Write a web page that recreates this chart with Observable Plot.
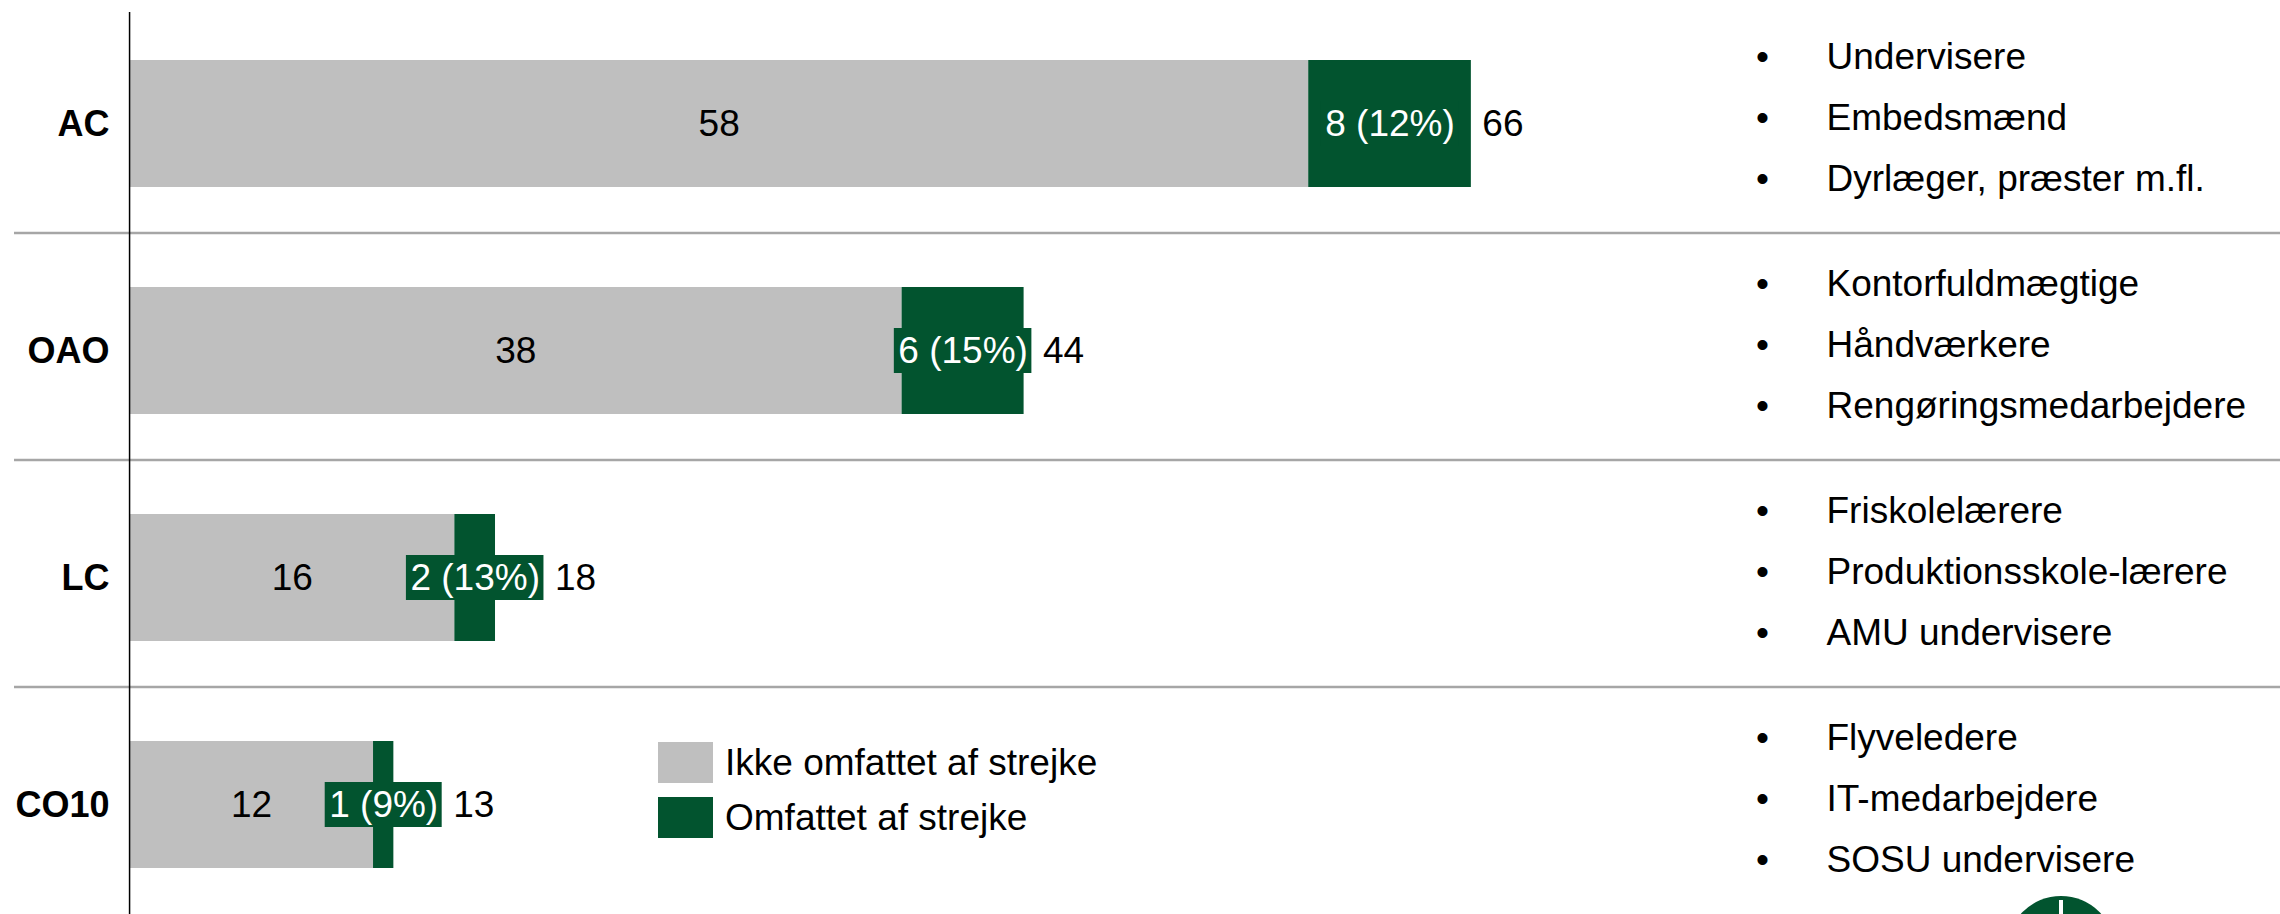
<!DOCTYPE html>
<html>
<head>
<meta charset="utf-8">
<script src="https://cdn.jsdelivr.net/npm/d3@7"></script>
<script src="https://cdn.jsdelivr.net/npm/@observablehq/plot@0.6"></script>
<style>
  html, body { margin: 0; padding: 0; background: #fff; }
  body { width: 2280px; height: 914px; overflow: hidden; position: relative;
         font-family: "Liberation Sans", Arial, sans-serif; }
  #chart { position: absolute; left: 0; top: 0; }
  .legend { position: absolute; left: 658px; top: 742px; font-size: 37px; color: #000; }
  .legend .row { display: flex; align-items: center; height: 41px; margin-bottom: 14px; }
  .legend .sw { width: 55px; height: 41px; margin-right: 12px; }
  .logo { position: absolute; left: 2007px; top: 896px; width: 108px; height: 108px;
          border-radius: 50%; background: #02542f; }
  .logo::after { content: ""; position: absolute; left: 52px; top: 4px; width: 4px; height: 14px; background: #fff; }
</style>
</head>
<body>
<div id="chart"></div>
<div class="legend" id="legend"></div>
<div class="logo"></div>
<script>
// ---- data ----
const groups = ["AC", "OAO", "LC", "CO10"];
const notCovered = [58, 38, 16, 12];
const covered = [8, 6, 2, 1];
const coveredShare = [12, 15, 13, 9];
const totals = [66, 44, 18, 13];
const occupations = [
  ["Undervisere", "Embedsmænd", "Dyrlæger, præster m.fl."],
  ["Kontorfuldmægtige", "Håndværkere", "Rengøringsmedarbejdere"],
  ["Friskolelærere", "Produktionsskole-lærere", "AMU undervisere"],
  ["Flyveledere", "IT-medarbejdere", "SOSU undervisere"]
];
const seriesNames = ["Ikke omfattet af strejke", "Omfattet af strejke"];
const colors = ["#bfbfbf", "#02542f"];

// ---- layout ----
const W = 2280, H = 914, marginLeft = 14;
const xDomain = [-5.66, 105.8];
const pxPerUnit = (W - marginLeft) / (xDomain[1] - xDomain[0]);
const numFont = 37;
const ctx = document.createElement("canvas").getContext("2d");
ctx.font = `${numFont}px "Liberation Sans", Arial, sans-serif`;

const rows = groups.map((g, i) => {
  const label = `${covered[i]} (${coveredShare[i]}%)`;
  const mid = notCovered[i] + covered[i] / 2;
  const hw = (ctx.measureText(label).width / 2 + 4) / pxPerUnit;
  const boxR = mid + hw;
  return {
    group: g, idx: i, nc: notCovered[i], c: covered[i], total: totals[i],
    label, mid, boxL: mid - hw, boxR, totalX: Math.max(totals[i], boxR)
  };
});

const listMarks = [];
for (let k = 0; k < 3; k++) {
  listMarks.push(Plot.text(rows, {
    y: "group", text: () => "•", frameAnchor: "right", dx: -518, dy: (k - 1) * 61 - 6,
    textAnchor: "middle", fontSize: 37, fill: "#000"
  }));
  listMarks.push(Plot.text(rows, {
    y: "group", text: d => occupations[d.idx][k], frameAnchor: "right", dx: -454, dy: (k - 1) * 61 - 6,
    textAnchor: "start", fontSize: 37, fill: "#000"
  }));
}

const chart = Plot.plot({
  width: W, height: H,
  marginLeft, marginRight: 0, marginTop: 0, marginBottom: 0,
  style: { fontFamily: '"Liberation Sans", Arial, sans-serif', background: "#fff", overflow: "visible" },
  x: { domain: xDomain, axis: null },
  y: { domain: groups, range: [8, 919], padding: 0, axis: null },
  marks: [
    Plot.ruleY(groups.slice(0, 3), { y: d => d, dy: 109, stroke: "#a6a6a6", strokeWidth: 2.5 }),
    Plot.barX(rows, { y: "group", x1: 0, x2: "nc", fill: colors[0], insetTop: 50, insetBottom: 50 }),
    Plot.barX(rows, { y: "group", x1: "nc", x2: "total", fill: colors[1], insetTop: 50, insetBottom: 50 }),
    Plot.barX(rows, { y: "group", x1: "boxL", x2: "boxR", fill: colors[1], insetTop: 91, insetBottom: 91 }),
    Plot.ruleX([0], { stroke: "#000", strokeWidth: 1.5, insetTop: 12 }),
    Plot.text(rows, { y: "group", x: d => d.nc / 2, text: d => String(d.nc), fontSize: numFont, fill: "#000" }),
    Plot.text(rows, { y: "group", x: "mid", text: "label", fontSize: numFont, fill: "#fff" }),
    Plot.text(rows, { y: "group", x: "totalX", text: d => String(d.total), dx: 11, textAnchor: "start", fontSize: numFont, fill: "#000" }),
    Plot.text(groups, { y: d => d, x: 0, text: d => d, dx: -20, textAnchor: "end", fontWeight: "bold", fontSize: 36, fill: "#000" }),
    ...listMarks
  ]
});
document.getElementById("chart").appendChild(chart);

// legend
const lg = document.getElementById("legend");
seriesNames.forEach((name, i) => {
  const r = document.createElement("div");
  r.className = "row";
  const sw = document.createElement("div");
  sw.className = "sw";
  sw.style.background = colors[i];
  const t = document.createElement("span");
  t.textContent = name;
  r.appendChild(sw); r.appendChild(t);
  lg.appendChild(r);
});
</script>
</body>
</html>
